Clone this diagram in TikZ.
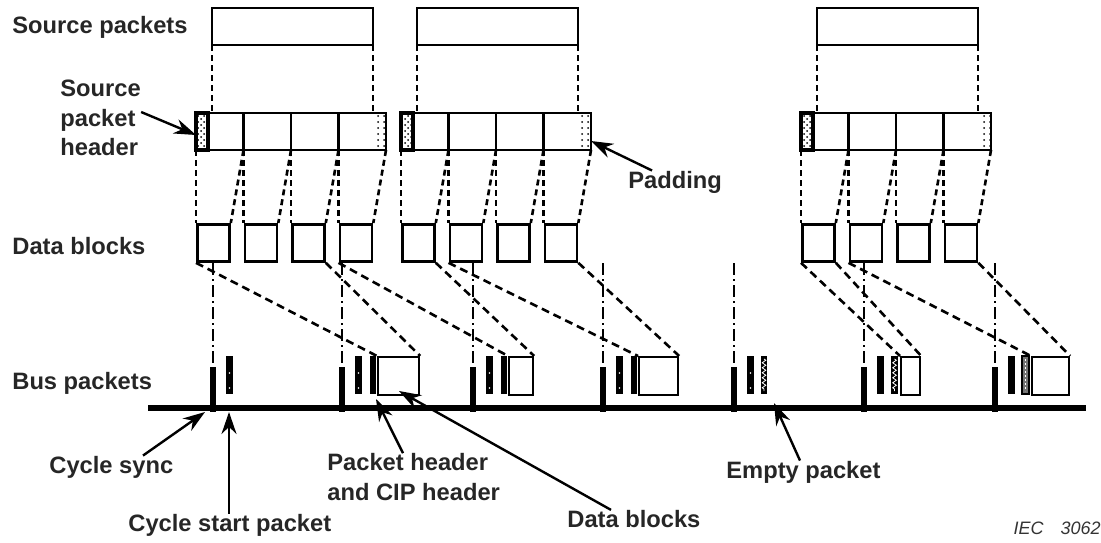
\documentclass[tikz,border=0pt]{standalone}
\usepackage{fontspec}
\setmainfont{Liberation Sans}
\usetikzlibrary{arrows.meta,patterns,decorations.pathmorphing}

\begin{document}
\begin{tikzpicture}[x=0.5pt,y=-0.5pt,
  lbl/.style={font=\fontsize{11.85}{14.75}\selectfont\bfseries, text=black!85, inner sep=0pt},
  box/.style={draw, line width=1.4pt},
  dblk/.style={draw, line width=1.4pt, minimum width=16pt, minimum height=18.5pt, inner sep=0pt, anchor=north west},
  bblk/.style={draw, line width=1.1pt, minimum height=19pt, inner sep=0pt, anchor=north west},
  link/.style={line width=1.3pt, dash pattern=on 3pt off 2pt},
  flow/.style={line width=1.3pt, dash pattern=on 4pt off 2.5pt},
  syncline/.style={line width=1pt, dash pattern=on 6pt off 2pt on 1pt off 2pt},
  pointer/.style={line width=1.2pt, -{Stealth[length=11pt,width=7.5pt]}}]

\useasboundingbox (0,0) rectangle (1101,542);

% source packets, split into data blocks
\foreach \x/\n in {196/1,401/5,801/9} {
  \draw[box] (\x+16,8) rectangle (\x+177,45);
  \draw[link] (\x+16,45) -- (\x+16,113);
  \draw[link] (\x+177,45) -- (\x+177,113);
  \fill[pattern=dots] (\x+179,115) rectangle (\x+189,148);
  \draw[line width=1.7pt, pattern=crosshatch dots] (\x,113) rectangle (\x+12,150);
  \draw[box] (\x,113) rectangle (\x+190,150);
  \foreach \k in {0,1,2,3} {
    \pgfmathtruncatemacro\m{\n+\k}
    \draw[box] (\x+47.5*\k+47.5,113) -- (\x+47.5*\k+47.5,150);
    \node[dblk] (db\m) at (\x+47.5*\k,223) {};
    \draw[link] (\x+47.5*\k,150) -- (db\m.north west);
    \draw[link] (\x+47.5*\k+47.5,150) -- (db\m.north east);
  }
}

% bus and cycles
\draw[line width=3.3pt] (148,408) -- (1086,408);
\foreach \c/\d in {213/1,342/1,473/1,603/1,734/1,864/0,995/0} {
  \draw[syncline] (\c,263) -- (\c,367);
  \fill (\c-3,367) rectangle (\c+3,412);
  \fill (\c+13,356) rectangle (\c+20,394);
  \ifnum\d=1
    \fill[white] (\c+16.5,373) circle (0.45pt);
    \fill[white] (\c+16.5,388) circle (0.45pt);
  \fi
}

% bus packets
\fill (370,356) rectangle (375.5,394);
\node[bblk, minimum width=20.5pt] (bp2) at (377,356) {};
\fill (501,356) rectangle (506.5,394);
\node[bblk, minimum width=12pt] (bp3) at (508,356) {};
\fill (631,356) rectangle (636.5,394);
\node[bblk, minimum width=19.5pt] (bp4) at (638,356) {};
\fill (761,356) rectangle (767,394);
\draw[white, line width=0.4pt, decorate, decoration={zigzag, amplitude=0.9pt, segment length=2.5pt}] (764,359) -- (764,391);
\fill (891,356) rectangle (898,394);
\draw[white, line width=0.4pt, decorate, decoration={zigzag, amplitude=0.9pt, segment length=2.5pt}] (894.5,359) -- (894.5,391);
\node[bblk, minimum width=9.5pt] (bp6) at (900,356) {};
\draw[line width=0.9pt, fill=black!55] (1022,356) rectangle (1029,394);
\draw[white, line width=0.8pt, dash pattern=on 0.8pt off 1.2pt] (1025.5,359) -- (1025.5,391);
\node[bblk, minimum width=18.5pt] (bp7) at (1031,356) {};

% data blocks into bus packets
\draw[flow] (db1.south west) -- (bp2.north west);
\draw[flow] (db3.south east) -- (bp2.north east);
\draw[flow] (db4.south west) -- (bp3.north west);
\draw[flow] (db5.south east) -- (bp3.north east);
\draw[flow] (db6.south west) -- (bp4.north west);
\draw[flow] (db8.south east) -- (bp4.north east);
\draw[flow] (db9.south west) -- (bp6.north west);
\draw[flow] (db9.south east) -- (bp6.north east);
\draw[flow] (db10.south west) -- (bp7.north west);
\draw[flow] (db12.south east) -- (bp7.north east);

% labels
\node[lbl, anchor=west] (srclbl) at (12,27) {Source packets};
\node[lbl, anchor=west, align=left] (hdrlbl) at (60,118) {Source\\packet\\header};
\node[lbl, anchor=west] (dblbl) at (12,246) {Data blocks};
\node[lbl, anchor=west] (buslbl) at (12,383) {Bus packets};
\node[lbl, anchor=west] (padlbl) at (628,182) {Padding};
\node[lbl, anchor=west] (synclbl) at (49,467) {Cycle sync};
\node[lbl, anchor=west] (startlbl) at (128,525) {Cycle start packet};
\node[lbl, anchor=west, align=left] (phdrlbl) at (327,477) {Packet header\\and CIP header};
\node[lbl, anchor=west] (dblbl2) at (567,519) {Data blocks};
\node[lbl, anchor=west] (emptylbl) at (726,472) {Empty packet};
\node[font=\fontsize{9}{10}\selectfont\itshape, text=black!80, anchor=east, inner sep=0pt] (ieclbl) at (1101,528) {IEC\hspace{8.5pt}3062};

% arrows
\coordinate (hdrtip) at (196,135);
\coordinate (padtip) at (591,141);
\coordinate (synctip) at (205,412);
\coordinate (starttip) at (229,412);
\coordinate (phdrtip) at (376,399);
\coordinate (dbtip) at (399,391);
\coordinate (emptytip) at (774,403);
\draw[pointer] ([yshift=3pt]hdrlbl.east) -- (hdrtip);
\draw[pointer] ([xshift=12pt]padlbl.north west) -- (padtip);
\draw[pointer] ([xshift=47pt]synclbl.north west) -- (synctip);
\draw[pointer] (startlbl.north -| starttip) -- (starttip);
\draw[pointer] ([xshift=38pt]phdrlbl.north west) -- (phdrtip);
\draw[pointer] ([xshift=22pt]dblbl2.north west) -- (dbtip);
\draw[pointer] ([xshift=37pt]emptylbl.north west) -- (emptytip);

\end{tikzpicture}
\end{document}
